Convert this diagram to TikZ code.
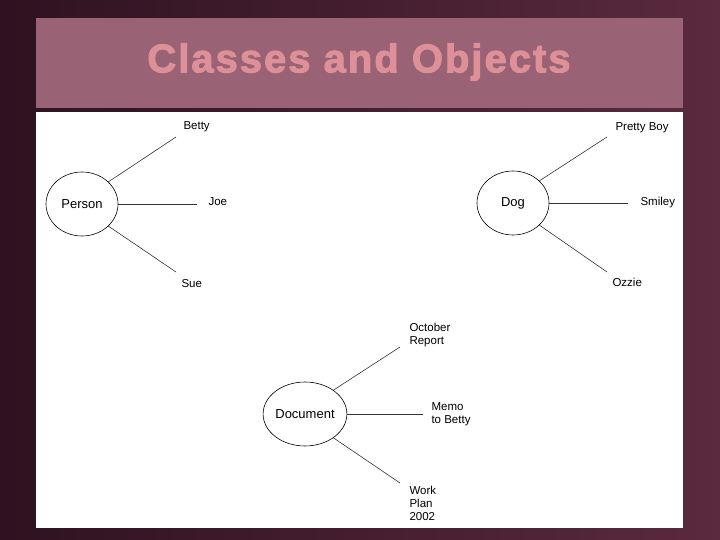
\documentclass[tikz,border=0pt]{standalone}
\usepackage{fontspec}
\setmainfont{Liberation Sans}
\usetikzlibrary{shapes.geometric}
\definecolor{bgdark}{HTML}{2E1220}
\definecolor{bgmid}{HTML}{5A2A3E}
\definecolor{band}{HTML}{9A6275}
\definecolor{titlepink}{HTML}{DE9098}
\tikzset{
  cls/.style={draw, ellipse, inner sep=0pt, line width=0.6pt, minimum width=72, minimum height=64, font=\fontsize{13}{15}\selectfont},
  obj/.style={anchor=west, align=left, font=\fontsize{11.5}{13}\selectfont},
  link/.style={draw=black!80, line width=0.6pt}
}
\begin{document}
\begin{tikzpicture}[x=1pt,y=-1pt]
%-------------------------------------------------------------
% Slide background
\shade[left color=bgdark, right color=bgmid] (0,0) rectangle (720,540);
\useasboundingbox (0,0) rectangle (720,540);
\fill[band] (36,18) rectangle (683,108);
\fill[white] (36,112) rectangle (683,528);
\node (title) at (359,62) {\fontsize{40}{44}\selectfont\bfseries\addfontfeature{LetterSpace=5,FakeBold=2.5}\color{titlepink}Classes and Objects};
%-------------------------------------------------------------
% Person
\node[cls] (P) at (82,204) {Person};
\coordinate (P1) at (176,137);
\coordinate (P2) at (197,204);
\coordinate (P3) at (176,272);
\node[obj] (Pa) at (180,127) {Betty};
\node[obj] (Pb) at (205,202) {Joe};
\node[obj] (Pc) at (178,284) {Sue};
\draw[link] (P.40) -- (P1);
\draw[link] (P.east) -- (P2);
\draw[link] (P.-40) -- (P3);
%-------------------------------------------------------------
% Dog
\node[cls] (D) at (513,203) {Dog};
\coordinate (D1) at (607,137);
\coordinate (D2) at (628,203);
\coordinate (D3) at (607,272);
\node[obj] (Da) at (612,128) {Pretty Boy};
\node[obj] (Db) at (637,203) {Smiley};
\node[obj] (Dc) at (609,282) {Ozzie};
\draw[link] (D.40) -- (D1);
\draw[link] (D.east) -- (D2);
\draw[link] (D.-40) -- (D3);
%-------------------------------------------------------------
% Document
\node[cls] (C) at (305,414) {Document};
\coordinate (C1) at (400,347);
\coordinate (C2) at (423,414);
\coordinate (C3) at (400,483);
\node[obj] (Ca) at (406,335) {October\\Report};
\node[obj] (Cb) at (428,414) {Memo\\to Betty};
\node[obj] (Cc) at (406,503) {Work\\Plan\\2002};
\draw[link] (C.40) -- (C1);
\draw[link] (C.east) -- (C2);
\draw[link] (C.-40) -- (C3);
\end{tikzpicture}
\end{document}
